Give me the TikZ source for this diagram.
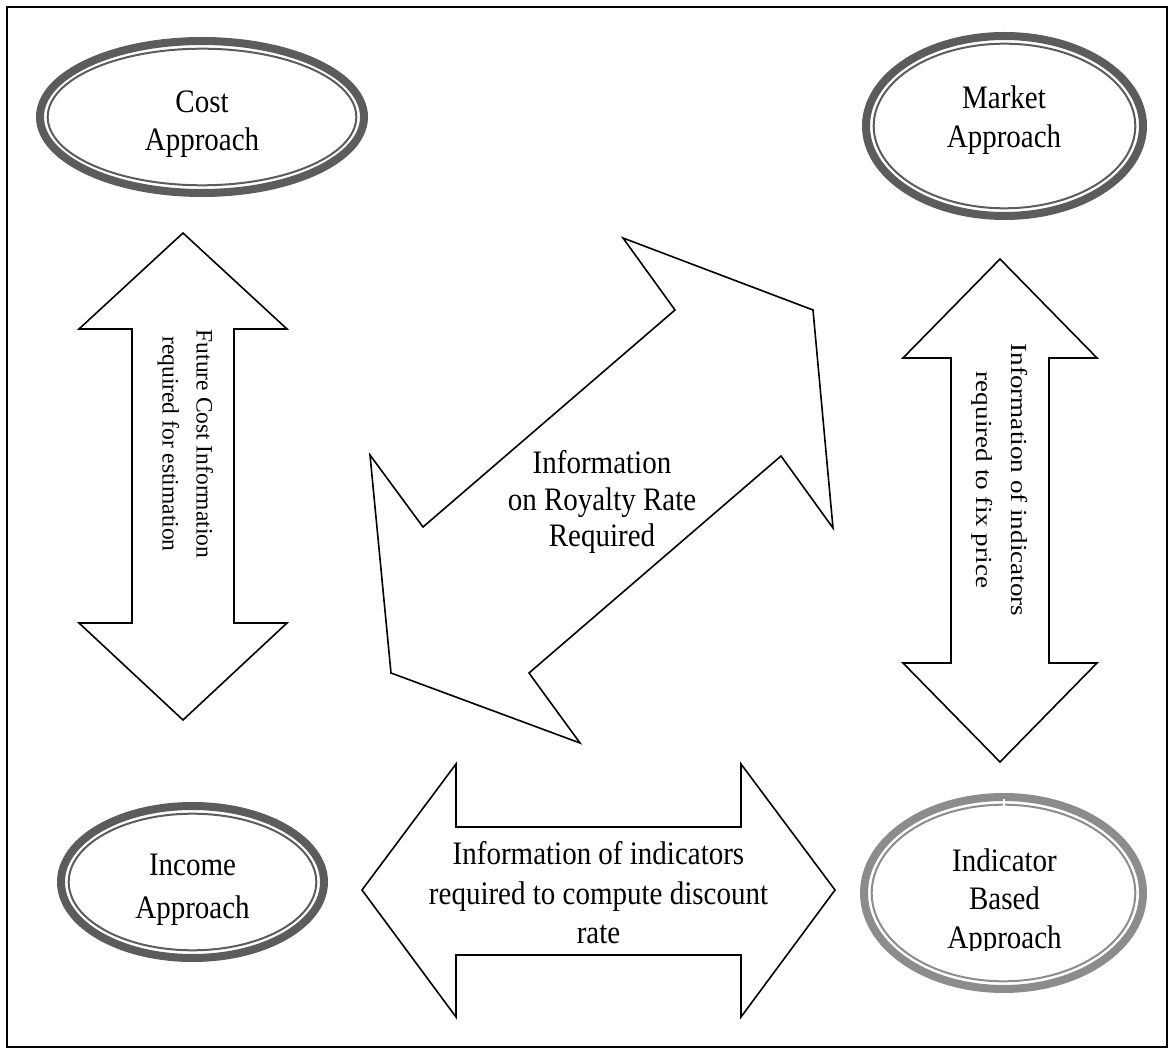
\documentclass[tikz,border=0pt]{standalone}
\usepackage{fontspec}
\setmainfont{Liberation Serif}
\definecolor{ringdark}{RGB}{92,92,92}
\definecolor{ringlight}{RGB}{140,140,140}
\begin{document}
\begin{tikzpicture}[x=1pt,y=-1pt,
  ringout/.style={line width=8pt},
  ringin/.style={line width=2pt},
  bigarrow/.style={draw=black,line width=1.6pt,fill=white,line join=miter},
  lbl/.style={align=center,inner sep=0pt,outer sep=0pt},
  tall/.style={yscale=1.13},
]
\useasboundingbox (0,0) rectangle (1171,1048);
\draw[line width=2pt] (7,7) rectangle (1167,1046.5);

% big arrows
\draw[bigarrow] (183,233) -- (287,329) -- (234,329) -- (234,623) -- (287,623) -- (183,720)
  -- (79,623) -- (132,623) -- (132,329) -- (79,329) -- cycle;
\draw[bigarrow] (1000,259) -- (1097,358) -- (1049,358) -- (1049,663) -- (1097,663) -- (1000,762)
  -- (903,663) -- (951,663) -- (951,358) -- (903,358) -- cycle;
\draw[bigarrow] (362,890) -- (456,764) -- (456,827) -- (741,827) -- (741,764) -- (835,890)
  -- (741,1017) -- (741,955) -- (456,955) -- (456,1017) -- cycle;
\draw[bigarrow] (623,238) -- (813,310) -- (833,528) -- (781,456) -- (529,673) -- (580,743)
  -- (391,673) -- (370,455) -- (423,527) -- (675,310) -- cycle;

% rings
\draw[ringdark,ringout] (202,117) ellipse [x radius=162, y radius=76];
\draw[ringdark,ringin]  (202,117) ellipse [x radius=154.3, y radius=68.3];
\draw[ringdark,ringout] (1004.5,126) ellipse [x radius=138.5, y radius=90];
\draw[ringdark,ringin]  (1004.5,126) ellipse [x radius=130.8, y radius=82.3];
\draw[ringdark,ringout] (192.5,882) ellipse [x radius=131.5, y radius=76];
\draw[ringdark,ringin]  (192.5,882) ellipse [x radius=123.8, y radius=68.3];
\draw[ringlight,ringout] (1003.5,893) ellipse [x radius=139.5, y radius=96];
\draw[ringlight,ringin]  (1003.5,893) ellipse [x radius=131.8, y radius=88.3];
\draw[white,line width=2.5pt] (1004,799) -- (1004,807);

% labels
\node[lbl,tall,font=\fontsize{29}{33}\selectfont] (cost) at (202,124) {Cost\\Approach};
\node[lbl,tall,font=\fontsize{29}{35}\selectfont] (market) at (1004,120) {Market\\Approach};
\node[lbl,tall,font=\fontsize{29}{38}\selectfont] (income) at (192.5,890) {Income\\Approach};
\begin{scope}
  \clip (850,780) rectangle (1160,950);
  \node[lbl,tall,font=\fontsize{29}{34}\selectfont] (indicator) at (1004.5,902) {Indicator\\Based\\Approach};
\end{scope}
\node[lbl,tall,font=\fontsize{29}{32.5}\selectfont] (royalty) at (602,502) {Information\\on Royalty Rate\\Required};
\node[lbl,tall,font=\fontsize{29}{35}\selectfont] (discount) at (598.5,893) {Information of indicators\\required to compute discount\\rate};
\node[lbl,rotate=-90,font=\fontsize{23.5}{34}\selectfont] (futurecost) at (185.5,444) {Future Cost Information\\required for estimation};
\node[lbl,rotate=-90,xscale=1.18,font=\fontsize{23}{35}\selectfont] (fixprice) at (1000,480) {Information of indicators\\required to fix price};
\end{tikzpicture}
\end{document}
